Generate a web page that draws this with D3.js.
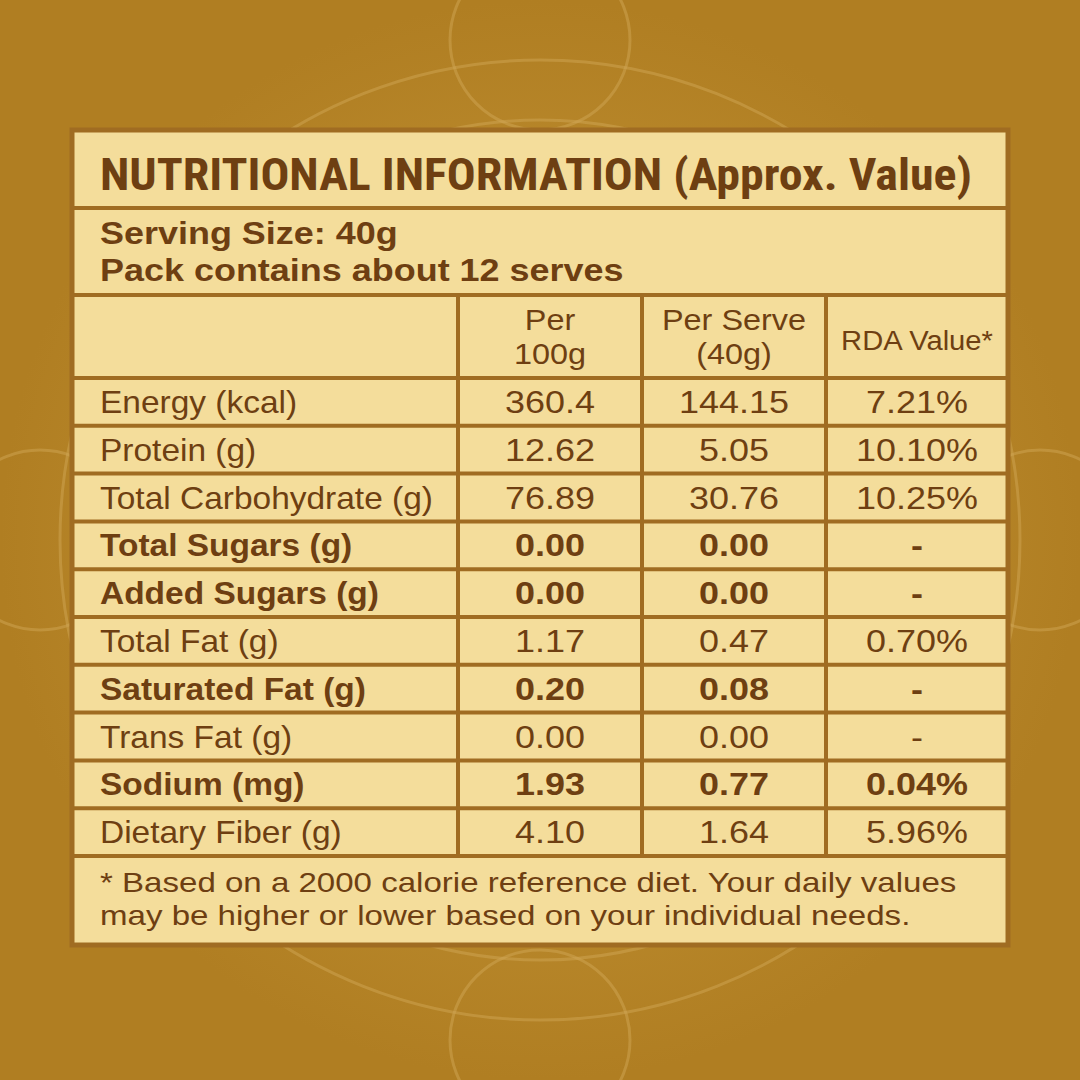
<!DOCTYPE html>
<html><head><meta charset="utf-8">
<script src="https://cdn.jsdelivr.net/npm/d3@7"></script>
<style>body{margin:0;}svg{display:block;}</style>
</head><body>
<script>
const title = "NUTRITIONAL INFORMATION (Approx. Value)";
const serving = ["Serving Size: 40g", "Pack contains about 12 serves"];
const headers = [["Per", "100g"], ["Per Serve", "(40g)"], ["RDA Value*"]];
const nutrients = ["Energy (kcal)", "Protein (g)", "Total Carbohydrate (g)", "Total Sugars (g)", "Added Sugars (g)", "Total Fat (g)", "Saturated Fat (g)", "Trans Fat (g)", "Sodium (mg)", "Dietary Fiber (g)"];
const per100 = ["360.4", "12.62", "76.89", "0.00", "0.00", "1.17", "0.20", "0.00", "1.93", "4.10"];
const perServe = ["144.15", "5.05", "30.76", "0.00", "0.00", "0.47", "0.08", "0.00", "0.77", "1.64"];
const rda = ["7.21%", "10.10%", "10.25%", "-", "-", "0.70%", "-", "-", "0.04%", "5.96%"];
const boldRows = [false, false, false, true, true, false, true, false, true, false];
const footnote = ["* Based on a 2000 calorie reference diet. Your daily values", "may be higher or lower based on your individual needs."];

const W = 1080, H = 1080;
const ink = "#6e3f12", line = "#a06c22";
const svg = d3.select("body").append("svg").attr("width", W).attr("height", H);
const defs = svg.append("defs");
const g = defs.append("radialGradient").attr("id", "bg");
g.append("stop").attr("offset", "0%").attr("stop-color", "#c89a3c");
g.append("stop").attr("offset", "100%").attr("stop-color", "#b07e22");
svg.append("rect").attr("width", W).attr("height", H).attr("fill", "url(#bg)");
// faint decorative rings
[[540, 540, 480], [540, 540, 420], [40, 540, 90], [1040, 540, 90], [540, 1040, 90], [540, 40, 90]].forEach(c =>
  svg.append("circle").attr("cx", c[0]).attr("cy", c[1]).attr("r", c[2])
    .attr("fill", "none").attr("stroke", "#d0a653").attr("stroke-opacity", 0.5).attr("stroke-width", 3));

const L = 72, R = 1008;
const colX = [L, 458, 642, 826, R];
const rowY = d3.scaleLinear().domain([0, nutrients.length]).range([378, 856]);
const boxTop = 130, titleB = 208, servB = 295, boxBottom = 945;

svg.append("rect").attr("x", L).attr("y", boxTop).attr("width", R - L).attr("height", boxBottom - boxTop)
  .attr("fill", "#f4dd9b").attr("stroke", line).attr("stroke-width", 5);

const hl = [titleB, servB, ...d3.range(nutrients.length + 1).map(rowY)];
svg.selectAll("line.h").data(hl).join("line")
  .attr("x1", L).attr("x2", R).attr("y1", d => d).attr("y2", d => d)
  .attr("stroke", line).attr("stroke-width", 4);
svg.selectAll("line.v").data(colX.slice(1, 4)).join("line")
  .attr("x1", d => d).attr("x2", d => d).attr("y1", servB).attr("y2", rowY(nutrients.length))
  .attr("stroke", line).attr("stroke-width", 4);

const font = "'Liberation Sans', Arial, sans-serif";
// text drawn with a horizontal stretch, like the reference artwork
function put(x, y, t, sx, size, bold, anchor) {
  svg.append("text").attr("transform", `translate(${x},${y}) scale(${sx},1)`)
    .attr("text-anchor", anchor || "start").text(t)
    .attr("font-family", font).attr("font-size", size)
    .attr("font-weight", bold ? "bold" : "normal").attr("fill", ink);
}
svg.append("text").attr("x", 100).attr("y", 190).text(title)
  .attr("font-family", "'Roboto Condensed', 'Liberation Sans Narrow', 'DejaVu Sans Condensed', sans-serif")
  .attr("font-weight", "bold").attr("font-size", 44).attr("fill", ink)
  .attr("textLength", 872).attr("lengthAdjust", "spacingAndGlyphs");
serving.forEach((s, i) => put(100, 244 + i * 37, s, 1.16, 31, true));

headers.forEach((h, i) => {
  const cx = (colX[i + 1] + colX[i + 2]) / 2;
  h.forEach((t, j) => put(cx, h.length === 1 ? 350 : 330 + j * 34, t, 1.08, i === 2 ? 27 : 30, false, "middle"));
});

const cols = [nutrients, per100, perServe, rda];
nutrients.forEach((n, r) => {
  const y = (rowY(r) + rowY(r + 1)) / 2 + 11;
  cols.forEach((c, ci) => {
    if (ci === 0) put(100, y, c[r], 1.08, 31, boldRows[r]);
    else put((colX[ci] + colX[ci + 1]) / 2, y, c[r], 1.16, 31, boldRows[r], "middle");
  });
});
footnote.forEach((t, i) => put(100, 892 + i * 33, t, 1.16, 28.5, false));
</script>
</body></html>
